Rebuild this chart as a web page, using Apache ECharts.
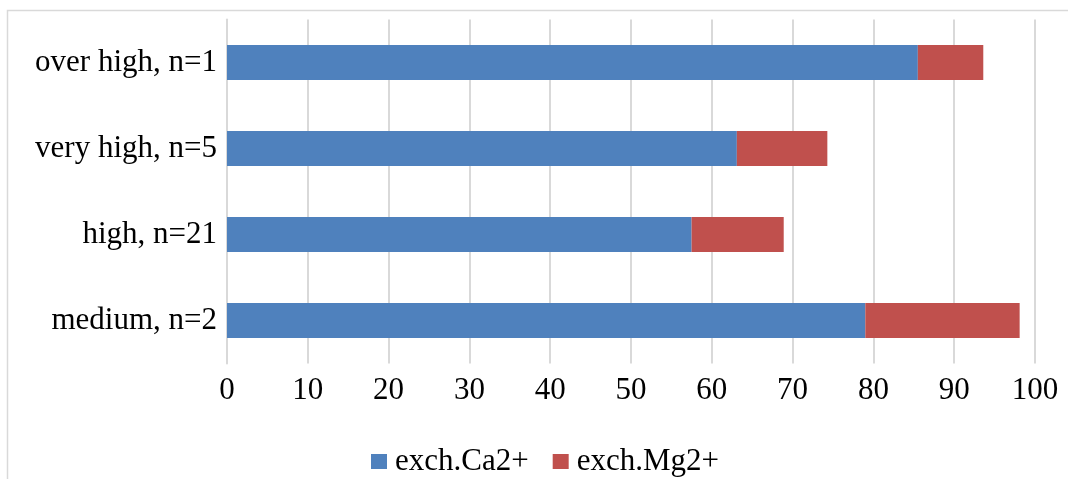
<!DOCTYPE html>
<html><head><meta charset="utf-8">
<script src="https://cdn.jsdelivr.net/npm/echarts@6/dist/echarts.min.js"></script>
<style>html,body{margin:0;padding:0;background:#fff}#c{width:1068px;height:479px}</style>
</head><body><div id="c"></div>
<script>
const categories = ['medium, n=2', 'high, n=21', 'very high, n=5', 'over high, n=1'];
const caValues = [79.0, 57.5, 63.1, 85.5];
const mgValues = [19.1, 11.4, 11.2, 8.1];
const xTicks = [0, 10, 20, 30, 40, 50, 60, 70, 80, 90, 100];
const seriesNames = ['exch.Ca2+', 'exch.Mg2+'];

const FONT = 'Liberation Serif';
const chart = echarts.init(document.getElementById('c'), null, {renderer: 'canvas'});
chart.setOption({
  animation: false,
  backgroundColor: '#fff',
  textStyle: {fontFamily: FONT},
  graphic: [{
    type: 'rect', shape: {x: 7.5, y: 10.5, width: 1100, height: 500},
    style: {fill: 'none', stroke: '#d9d9d9', lineWidth: 1.5}, silent: true
  }],
  grid: {left: 227, right: 33, top: 19.5, bottom: 115.5},
  legend: {
    top: 441, left: 366,
    itemWidth: 16, itemHeight: 15, itemGap: 24,
    icon: 'rect',
    textStyle: {fontFamily: FONT, fontSize: 31, color: '#000', padding: [0, 0, 0, 3]},
    data: seriesNames
  },
  xAxis: {
    type: 'value', min: xTicks[0], max: xTicks[xTicks.length - 1], interval: 10,
    axisLine: {show: false}, axisTick: {show: false},
    splitLine: {show: true, lineStyle: {color: '#d9d9d9', width: 2}},
    axisLabel: {fontFamily: FONT, fontSize: 31, color: '#000', margin: 12}
  },
  yAxis: {
    type: 'category', data: categories,
    axisLine: {show: true, lineStyle: {color: '#d9d9d9', width: 2}},
    axisTick: {show: false},
    axisLabel: {fontFamily: FONT, fontSize: 31, color: '#000', margin: 10}
  },
  series: [
    {name: seriesNames[0], type: 'bar', stack: 'a', data: caValues, barWidth: 35,
     itemStyle: {color: '#4f81bd'}},
    {name: seriesNames[1], type: 'bar', stack: 'a', data: mgValues, barWidth: 35,
     itemStyle: {color: '#c0504d'}}
  ]
});
</script></body></html>
